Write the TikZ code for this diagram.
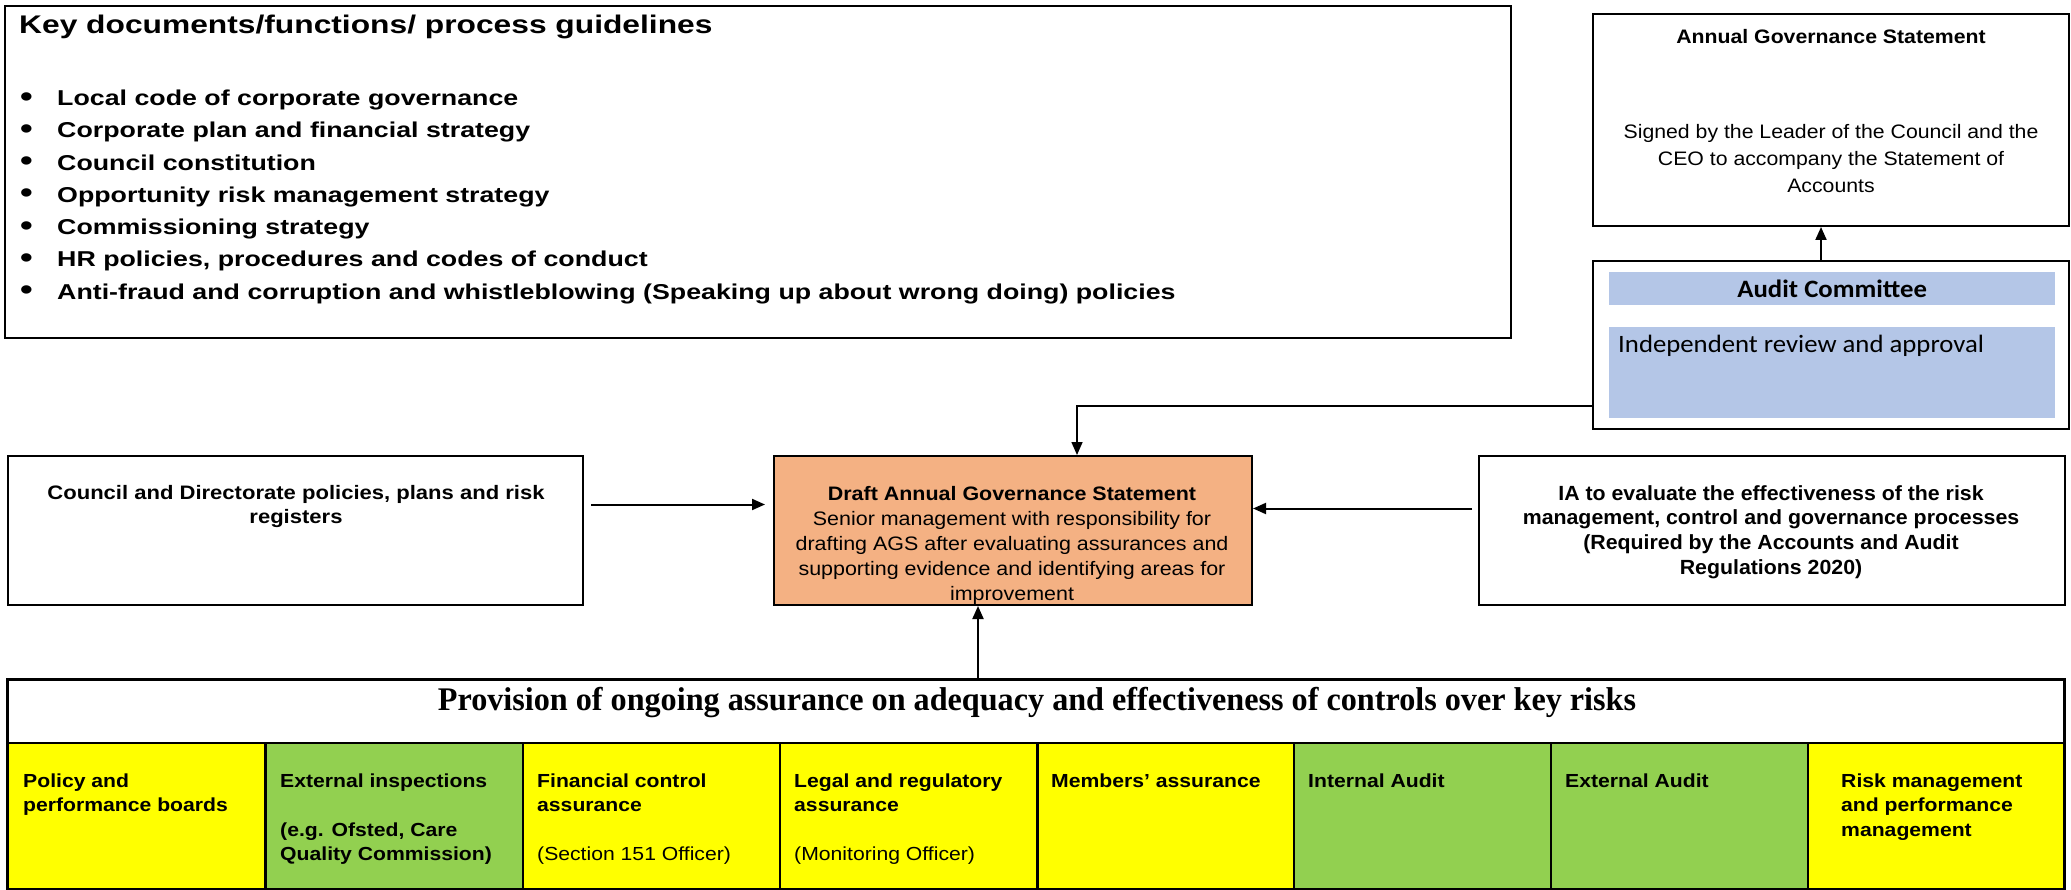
\documentclass[tikz,border=0pt]{standalone}
\usepackage{fontspec}
\setmainfont{Liberation Sans}
\newfontfamily\fkd[FakeStretch=1.245]{Liberation Sans}
\newfontfamily\fags[FakeStretch=1.09]{Liberation Sans}
\newfontfamily\fcou[FakeStretch=1.13]{Liberation Sans}
\newfontfamily\fdr[FakeStretch=1.10]{Liberation Sans}
\newfontfamily\fia[FakeStretch=1.04]{Liberation Sans}
\newfontfamily\fcell[FakeStretch=1.12]{Liberation Sans}
\newfontfamily\calfont[FakeStretch=1.07]{Carlito}
\newfontfamily\serfont[FakeStretch=0.975]{Liberation Serif}
\usetikzlibrary{arrows.meta,calc}
\definecolor{ylw}{HTML}{FFFF00}
\definecolor{grn}{HTML}{92D050}
\definecolor{blu}{HTML}{B4C6E7}
\definecolor{org}{HTML}{F4B183}
\newcommand\ltab[1]{\begin{tabular}[t]{@{}l@{}}#1\end{tabular}}
\newcommand\ctab[1]{\begin{tabular}[t]{@{}c@{}}#1\end{tabular}}
\begin{document}
\begin{tikzpicture}[x=1pt,y=-1pt,
  box/.style={draw, line width=2pt, inner sep=0pt, anchor=north west},
  bar/.style={fill=blu, inner sep=0pt, anchor=north west},
  cell/.style={draw, line width=1.5pt, inner sep=0pt, anchor=north west, minimum width=257pt, minimum height=146pt},
  ctxt/.style={inner sep=0pt, anchor=base west, font=\fcell\fontsize{18.9}{24.5}\selectfont\bfseries},
  mtxt/.style={inner sep=0pt, anchor=base},
  bul/.style={inner sep=0pt, anchor=base west, font=\fkd\fontsize{21.5}{26}\selectfont\bfseries},
  arr/.style={line width=2pt, -{Triangle[length=13pt,width=11pt]}}
]
\useasboundingbox (0,0) rectangle (2071,890);

% Key documents box
\node[box, minimum width=1506pt, minimum height=332pt] (kd) at (4,5) {};
\node[inner sep=0pt, anchor=base west, font=\fkd\fontsize{25.5}{30}\selectfont\bfseries] (kdt) at (19,33.5) {Key documents/functions/ process guidelines};
\foreach \t [count=\i] in {{Local code of corporate governance},{Corporate plan and financial strategy},{Council constitution},{Opportunity risk management strategy},{Commissioning strategy},{HR policies, procedures and codes of conduct},{Anti-fraud and corruption and whistleblowing (Speaking up about wrong doing) policies}}
  \node[bul] (b\i) at (20,{105.5+(\i-1)*32.3}) {\makebox[37pt][l]{\raisebox{-0.6pt}{\scalebox{1.35}{\textbullet}}}\t};

% Annual Governance Statement
\node[box, minimum width=476pt, minimum height=212pt] (ags) at (1592,13) {};
\node[mtxt, font=\fags\fontsize{19.5}{26.8}\selectfont\bfseries] (agst) at (1831,43.3) {Annual Governance Statement};
\node[mtxt, font=\fags\fontsize{19.5}{26.8}\selectfont] (agsb) at (1831,139) {\ctab{Signed by the Leader of the Council and the\\CEO to accompany the Statement of\\Accounts}};

% Audit Committee
\node[box, minimum width=476pt, minimum height=168pt] (aud) at (1592,260) {};
\node[bar, minimum width=446pt, minimum height=33pt] (aud1) at (1609,272) {};
\node[inner sep=0pt, font=\calfont\fontsize{25}{30}\selectfont\bfseries] (aud1t) at (aud1.center) {Audit Committee};
\node[bar, minimum width=446pt, minimum height=91pt] (aud2) at (1609,327) {};
\node[inner sep=0pt, anchor=west, font=\calfont\fontsize{25}{30}\selectfont] (aud2t) at (1618,346) {Independent review and approval};

% Council box
\node[box, minimum width=575pt, minimum height=149pt] (cou) at (7,455) {};
\node[mtxt, font=\fcou\fontsize{19.5}{24.5}\selectfont\bfseries] (cout) at (296,499) {\ctab{Council and Directorate policies, plans and risk\\registers}};

% Draft box
\node[box, fill=org, minimum width=478pt, minimum height=149pt] (dr) at (773,455) {};
\node[mtxt, font=\fdr\fontsize{19.5}{25}\selectfont] (drt) at (1012,500) {\ctab{\textbf{Draft Annual Governance Statement}\\Senior management with responsibility for\\drafting AGS after evaluating assurances and\\supporting evidence and identifying areas for\\improvement}};

% IA box
\node[box, minimum width=586pt, minimum height=149pt] (ia) at (1478,455) {};
\node[mtxt, font=\fia\fontsize{20.5}{24.8}\selectfont\bfseries] (iat) at (1771,500) {\ctab{IA to evaluate the effectiveness of the risk\\management, control and governance processes\\(Required by the Accounts and Audit\\Regulations 2020)}};

% Table
\node[box, line width=2pt, minimum width=2056pt, minimum height=63pt] (hdr) at (7,679) {};
\node[mtxt, font=\serfont\fontsize{33}{36}\selectfont\bfseries] (hdrt) at (1037,710) {Provision of ongoing assurance on adequacy and effectiveness of controls over key risks};
\node[cell, fill=ylw] (c1) at (7,742) {};
\node[cell, fill=grn] (c2) at (265,742) {};
\node[cell, fill=ylw] (c3) at (522,742) {};
\node[cell, fill=ylw] (c4) at (779,742) {};
\node[cell, fill=ylw] (c5) at (1037,742) {};
\node[cell, fill=grn] (c6) at (1293,742) {};
\node[cell, fill=grn] (c7) at (1550,742) {};
\node[cell, fill=ylw, minimum width=256pt] (c8) at (1807,742) {};
\draw[line width=2pt] (hdr.north west) rectangle (c8.south east);

\node[ctxt] (t1) at (23,787) {\ltab{Policy and\\performance boards}};
\node[ctxt] (t2) at (280,787) {\ltab{External inspections\\ \\(e.g. Ofsted, Care\\Quality Commission)}};
\node[ctxt] (t3) at (537,787) {\ltab{Financial control\\assurance\\ \\\mdseries (Section 151 Officer)}};
\node[ctxt] (t4) at (794,787) {\ltab{Legal and regulatory\\assurance\\ \\\mdseries (Monitoring Officer)}};
\node[ctxt] (t5) at (1051,787) {Members’ assurance};
\node[ctxt] (t6) at (1308,787) {Internal Audit};
\node[ctxt] (t7) at (1565,787) {External Audit};
\node[ctxt] (t8) at (1841,787) {\ltab{Risk management\\and performance\\management}};

% Connectors
\coordinate (tarr) at ([xshift=-35pt]dr.south);
\draw[arr] ([xshift=-10pt]aud.north) -- ([xshift=-10pt]ags.south);
\draw[line width=1.5pt, -{Triangle[length=13pt,width=11pt]}] ([yshift=-61pt]aud.west) -| ([xshift=64pt]dr.north);
\draw[arr] ($(cou.east)+(7,-26)$) -- ($(dr.west)+(-8,-26)$);
\draw[arr] ($(ia.west)+(-6,-22)$) -- ($(dr.east)+(0,-22)$);
\draw[arr] (tarr |- hdr.north) -- (tarr);
\end{tikzpicture}
\end{document}
